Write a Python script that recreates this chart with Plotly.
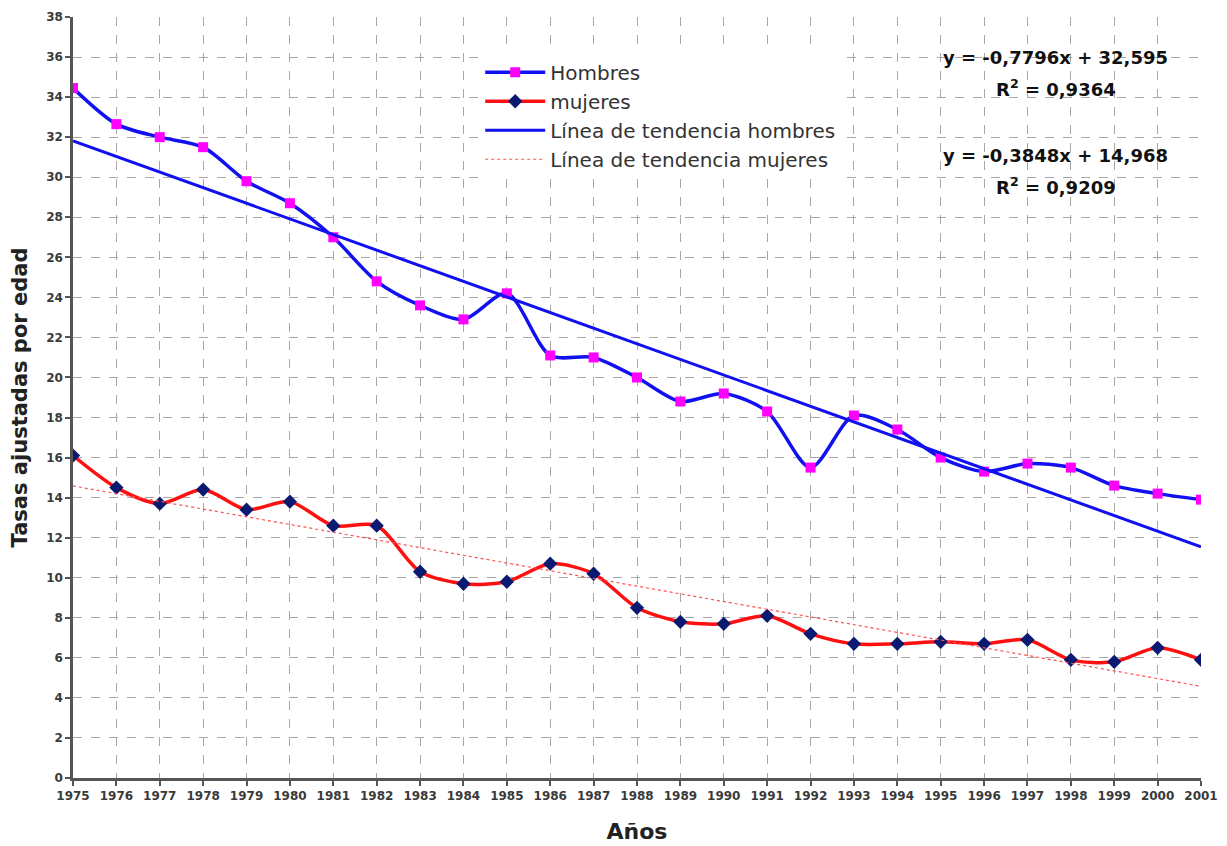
import plotly.graph_objects as go

years = list(range(1975, 2002))
hombres = [34.45, 32.65, 32.0, 31.5, 29.8, 28.7, 27.0, 24.8, 23.6, 22.9, 24.2, 21.1, 21.0, 20.0,
           18.8, 19.2, 18.3, 15.5, 18.1, 17.4, 16.0, 15.3, 15.7, 15.5, 14.6, 14.2, 13.9]
mujeres = [16.1, 14.5, 13.7, 14.4, 13.4, 13.8, 12.6, 12.6, 10.3, 9.7, 9.8, 10.7, 10.2, 8.5,
           7.8, 7.7, 8.1, 7.2, 6.7, 6.7, 6.8, 6.7, 6.9, 5.9, 5.8, 6.5, 5.9]

# trend line coefficients as shown on the chart (x = 1..27)
trend_h = {"slope": -0.7796, "intercept": 32.595, "r2": "0,9364"}
trend_m = {"slope": -0.3848, "intercept": 14.968, "r2": "0,9209"}

idx = list(range(1, len(years) + 1))
trend_h_vals = [trend_h["slope"] * i + trend_h["intercept"] for i in idx]
trend_m_vals = [trend_m["slope"] * i + trend_m["intercept"] for i in idx]

FONT = "DejaVu Sans, Verdana, sans-serif"

fig = go.Figure()
fig.add_trace(go.Scatter(
    x=years, y=hombres, name="Hombres", mode="lines+markers", legendgroup="a",
    line=dict(color="#1010f0", width=3.5, shape="spline", smoothing=0.8),
    marker=dict(symbol="square", size=10, color="#ff00ff"),
))
fig.add_trace(go.Scatter(
    x=years, y=mujeres, name="mujeres", mode="lines+markers", legendgroup="b",
    line=dict(color="#ff1010", width=3.5, shape="spline", smoothing=0.8),
    marker=dict(symbol="diamond", size=11, color="#0a1a70"),
))
fig.add_trace(go.Scatter(
    x=years, y=trend_h_vals, name="Línea de tendencia hombres", mode="lines", legendgroup="c",
    line=dict(color="#1010f0", width=3),
))
fig.add_trace(go.Scatter(
    x=years, y=trend_m_vals, name="Línea de tendencia mujeres", mode="lines", legendgroup="d",
    line=dict(color="#ff5050", width=1.2, dash="dot"),
))

def eq(t):
    return "y = %sx + %s" % (str(t["slope"]).replace(".", ","), str(t["intercept"]).replace(".", ","))

annots = [
    (eq(trend_h), 36.0),
    ("R<sup>2</sup> = " + trend_h["r2"], 34.45),
    (eq(trend_m), 31.1),
    ("R<sup>2</sup> = " + trend_m["r2"], 29.55),
]
for text, yv in annots:
    fig.add_annotation(x=1997.65, y=yv, text="<b>" + text + "</b>", showarrow=False,
                       xanchor="center", yanchor="middle",
                       font=dict(family=FONT, size=18, color="#111111"))

axis_common = dict(
    showgrid=True, gridcolor="#a8a8a8", gridwidth=1, griddash="dash",
    showline=True, linecolor="#555555", linewidth=2.5,
    ticks="outside", tickcolor="#555555", ticklen=5, tickwidth=1.5,
    zeroline=False, automargin=False,
    tickfont=dict(family=FONT, size=12, color="#3a3a3a", weight="bold"),
)

# page body has an 8px default margin; sizes/margins compensate for it
fig.update_layout(
    width=1219, height=838,
    margin=dict(l=65, r=26, t=9, b=68),
    paper_bgcolor="white", plot_bgcolor="white",
    font=dict(family=FONT),
    xaxis=dict(range=[1975, 2001], tickmode="array", tickvals=years,
               ticktext=[str(y) for y in years],
               title=dict(text="<b>Años</b>", font=dict(family=FONT, size=22, color="#222222"), standoff=22),
               **axis_common),
    yaxis=dict(range=[0, 38], dtick=2,
               title=dict(text="<b>Tasas ajustadas por edad</b>", font=dict(family=FONT, size=21, color="#222222"), standoff=13),
               **axis_common),
    legend=dict(x=0.361, y=0.953, xanchor="left", yanchor="top",
                bgcolor="white", borderwidth=0, itemwidth=60,
                font=dict(family=FONT, size=20, color="#333333"),
                tracegroupgap=0),
    showlegend=True,
)

fig.write_html("out.html")
